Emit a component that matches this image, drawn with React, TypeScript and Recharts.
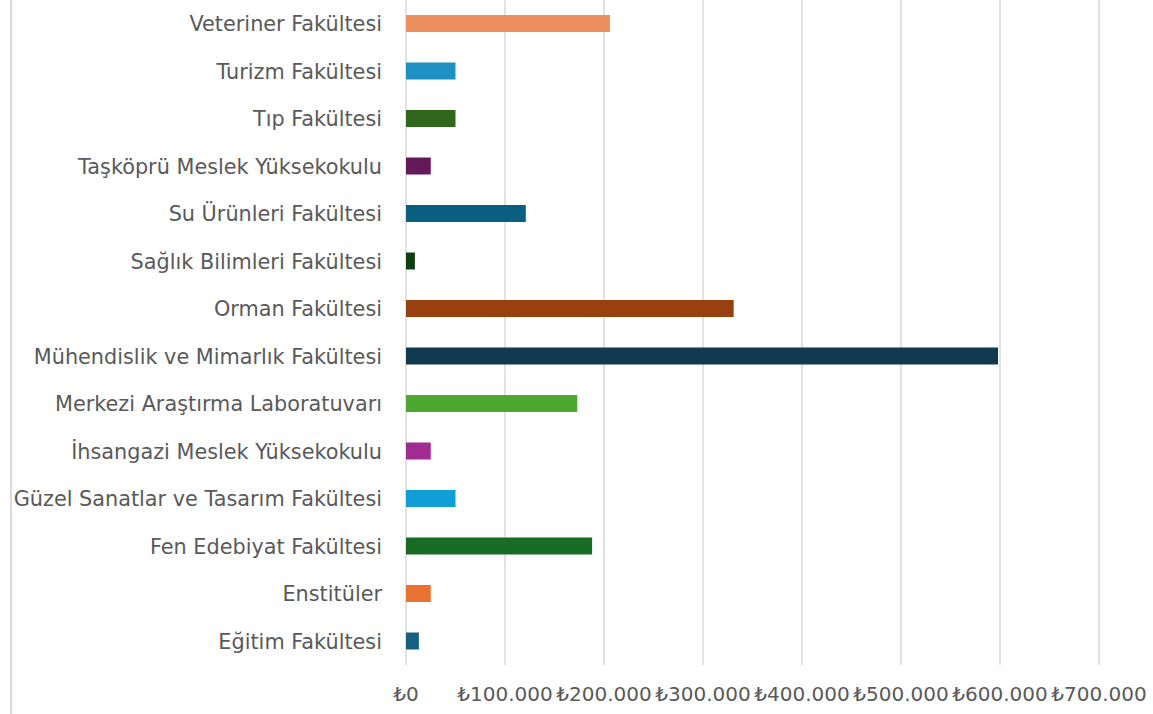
import { BarChart, Bar, XAxis, YAxis, CartesianGrid, Cell } from 'recharts';

const units = [
  'Veteriner Fakültesi',
  'Turizm Fakültesi',
  'Tıp Fakültesi',
  'Taşköprü Meslek Yüksekokulu',
  'Su Ürünleri Fakültesi',
  'Sağlık Bilimleri Fakültesi',
  'Orman Fakültesi',
  'Mühendislik ve Mimarlık Fakültesi',
  'Merkezi Araştırma Laboratuvarı',
  'İhsangazi Meslek Yüksekokulu',
  'Güzel Sanatlar ve Tasarım Fakültesi',
  'Fen Edebiyat Fakültesi',
  'Enstitüler',
  'Eğitim Fakültesi',
];

const amounts = [206000, 50000, 50000, 25000, 121000, 9000, 331000, 598000, 173000, 25000, 50000, 188000, 25000, 13000];

const barColors = [
  '#EE8F60', '#1F90C3', '#31661D', '#641A5A', '#095F80', '#103F16', '#984010',
  '#0F3A50', '#4EA72E', '#A02B93', '#0F9ED5', '#196B24', '#E97132', '#156082',
];

const xTicks = [0, 100000, 200000, 300000, 400000, 500000, 600000, 700000];

const data = units.map((name, i) => ({ name, amount: amounts[i] }));

function formatLira(value: number): string {
  return '₺' + String(value).replace(/\B(?=(\d{3})+(?!\d))/g, '.');
}

const FONT = '"DejaVu Sans", sans-serif';

export default function App() {
  return (
    <div style={{ position: 'absolute', left: 0, top: 0, width: 1153, height: 714, background: '#fff' }}>
      <div style={{ position: 'absolute', left: 10, top: 0, width: 2, height: 714, background: '#d9d9d9' }} />
      <BarChart
        width={1153}
        height={714}
        data={data}
        layout="vertical"
        margin={{ top: 0, right: 54, bottom: 0, left: 0 }}
      >
        <CartesianGrid horizontal={false} stroke="#d9d9d9" strokeWidth={1.5} />
        <XAxis
          type="number"
          domain={[0, 700000]}
          ticks={xTicks}
          tickFormatter={formatLira}
          axisLine={false}
          tickLine={false}
          height={49}
          tickMargin={16}
          tick={{ fill: '#595959', fontSize: 20, fontFamily: FONT }}
        />
        <YAxis
          type="category"
          dataKey="name"
          width={406}
          axisLine={false}
          tickLine={false}
          tickMargin={18}
          interval={0}
          tick={{ fill: '#595959', fontSize: 20.8, fontFamily: FONT }}
        />
        <Bar dataKey="amount" barSize={17} isAnimationActive={false}>
          {data.map((d, i) => (
            <Cell key={d.name} fill={barColors[i]} />
          ))}
        </Bar>
      </BarChart>
    </div>
  );
}
